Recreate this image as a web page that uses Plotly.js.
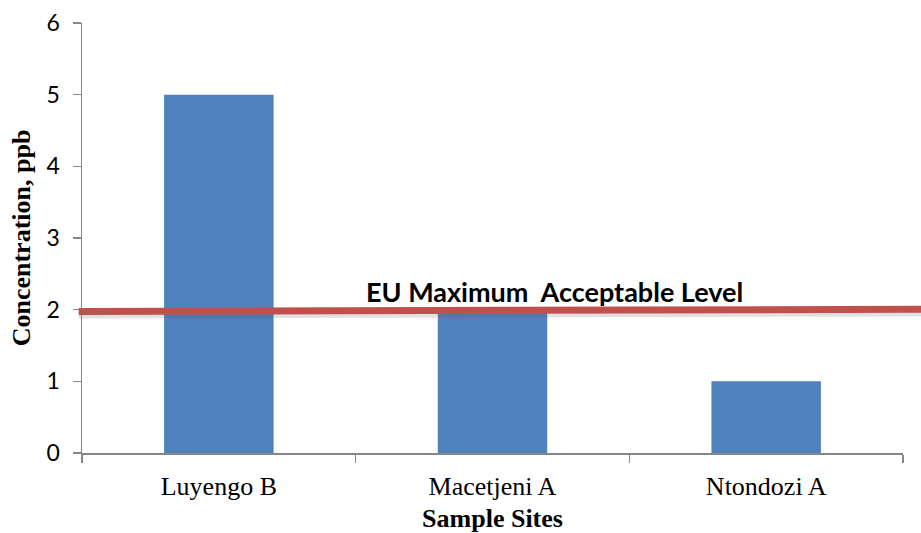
<!DOCTYPE html>
<html>
<head>
<meta charset="utf-8">
<script src="https://cdn.plot.ly/plotly-3.0.1.min.js"></script>
<style>html,body{margin:0;padding:0;background:#fff;}#chart{width:921px;height:533px;}</style>
</head>
<body>
<div id="chart"></div>
<script>
const categories = ["Luyengo B", "Macetjeni A", "Ntondozi A"];
const concentration = [5, 2, 1];
const euLimitStart = 1.975;
const euLimitEnd = 2.005;
const euLabel = "EU Maximum&nbsp;&nbsp;Acceptable Level";
const yTicks = [0, 1, 2, 3, 4, 5, 6];

const serif = "Liberation Serif, Times New Roman, serif";
const sans = "Lato, Open Sans, sans-serif";

const trace = {
  type: "bar",
  x: categories,
  y: concentration,
  width: 0.4,
  marker: {color: "#4F81BD"},
  hoverinfo: "x+y"
};

const layout = {
  width: 921,
  height: 533,
  margin: {l: 82, r: 18, t: 23, b: 80},
  paper_bgcolor: "#fff",
  plot_bgcolor: "#fff",
  showlegend: false,
  xaxis: {
    type: "category",
    range: [-0.5, 2.5],
    showline: true,
    linecolor: "#868686",
    linewidth: 1.5,
    ticks: "outside",
    tickson: "boundaries",
    ticklen: 8,
    tickcolor: "#868686",
    tickwidth: 1.5,
    ticklabelstandoff: 9,
    tickfont: {family: serif, size: 26, color: "#000"},
    title: {text: "<b>Sample Sites</b>", font: {family: serif, size: 26, color: "#000"}, standoff: 9},
    showgrid: false,
    zeroline: false
  },
  yaxis: {
    range: [0, 6],
    tickvals: yTicks,
    showline: true,
    linecolor: "#868686",
    linewidth: 1.5,
    ticks: "outside",
    ticklen: 8,
    tickcolor: "#868686",
    tickwidth: 1.5,
    ticklabelstandoff: 8,
    tickfont: {family: sans, size: 23, color: "#000"},
    title: {text: "<b>Concentration, ppb</b>", font: {family: serif, size: 26, color: "#000"}, standoff: 8},
    showgrid: false,
    zeroline: false
  },
  shapes: [
    {
      type: "line", xref: "paper", yref: "y",
      x0: -0.004, x1: 1.025, y0: euLimitStart - 0.05, y1: euLimitEnd - 0.05,
      line: {color: "rgba(90,90,90,0.18)", width: 7}
    },
    {
      type: "line", xref: "paper", yref: "y",
      x0: -0.004, x1: 1.025, y0: euLimitStart, y1: euLimitEnd,
      line: {color: "#C0504D", width: 7}
    }
  ],
  annotations: [
    {
      xref: "paper", yref: "y",
      x: 0.576, y: 2.0,
      yanchor: "bottom", xanchor: "center",
      yshift: 0,
      text: "<b>" + euLabel + "</b>",
      showarrow: false,
      font: {family: sans, size: 27, color: "#000"}
    }
  ]
};

Plotly.newPlot("chart", [trace], layout, {displayModeBar: false, staticPlot: true});
</script>
</body>
</html>
